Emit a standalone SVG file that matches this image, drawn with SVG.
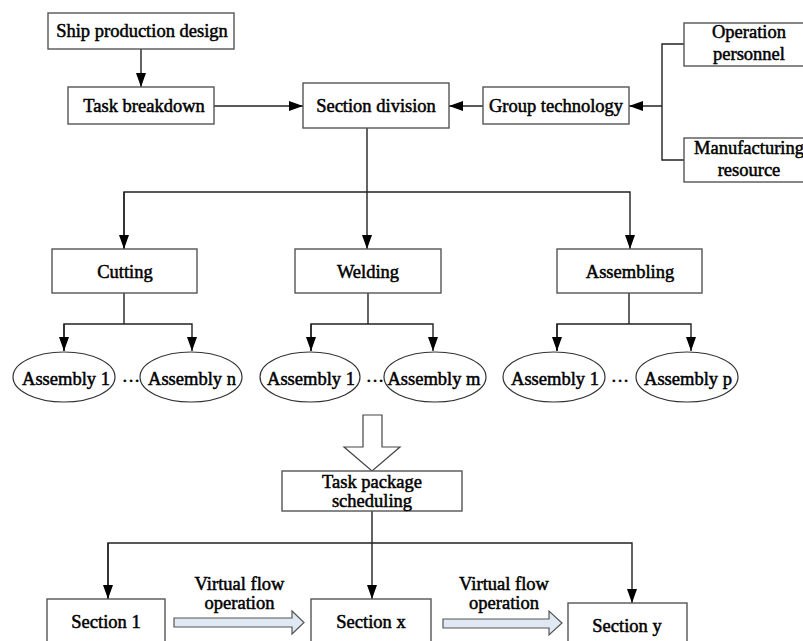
<svg xmlns="http://www.w3.org/2000/svg" width="803" height="641" viewBox="0 0 803 641">
<style>
.box{fill:#fff;stroke:#555;stroke-width:1.4}
.ell{fill:#fff;stroke:#333;stroke-width:1.2}
.t{font-family:"Liberation Serif","Times New Roman",serif;font-size:18.5px;fill:#000;text-anchor:middle;stroke:#000;stroke-width:0.5}
.c{fill:none;stroke:#222;stroke-width:1.4}
.hollow{fill:#fff;stroke:#444;stroke-width:1.2}
.blue{fill:#dfe8f3;stroke:#555;stroke-width:1.2}
</style>
<defs>
<marker id="ah" viewBox="0 0 14 10" refX="14" refY="5" markerWidth="14" markerHeight="10" orient="auto" markerUnits="userSpaceOnUse">
<path d="M0,0 L14,5 L0,10 Z" fill="#000"/>
</marker>
</defs>
<rect width="803" height="641" fill="#fff"/>

<g id="connectors">
<path class="c" d="M141,49 V87" marker-end="url(#ah)"/>
<path class="c" d="M214,106 H303" marker-end="url(#ah)"/>
<path class="c" d="M483,106 H449" marker-end="url(#ah)"/>
<path class="c" d="M662,106 H629" marker-end="url(#ah)"/>
<path class="c" d="M684,44 H662 V160 H684"/>
<path class="c" d="M367,128 V249" marker-end="url(#ah)"/>
<path class="c" d="M124,249 V192 H630 V249" marker-end="url(#ah)"/>
<path class="c" d="M124,192 V249" marker-end="url(#ah)"/>
<path class="c" d="M124,293 V324"/>
<path class="c" d="M64,351 V324 H192 V351" marker-end="url(#ah)"/>
<path class="c" d="M64,324 V351" marker-end="url(#ah)"/>
<path class="c" d="M368,293 V324"/>
<path class="c" d="M311,351 V324 H433 V351" marker-end="url(#ah)"/>
<path class="c" d="M311,324 V351" marker-end="url(#ah)"/>
<path class="c" d="M629,293 V324"/>
<path class="c" d="M557,351 V324 H691 V351" marker-end="url(#ah)"/>
<path class="c" d="M557,324 V351" marker-end="url(#ah)"/>
<path class="c" d="M372,511 V599" marker-end="url(#ah)"/>
<path class="c" d="M108,599 V543 H632 V603" marker-end="url(#ah)"/>
<path class="c" d="M108,543 V599" marker-end="url(#ah)"/>
<path class="hollow" d="M363,415 H382 V447 H400 L372,471 L344,447 H363 Z"/>
<path class="blue" d="M174,618 H292 V611 L304,622.5 L292,634 V627 H174 Z"/>
<path class="blue" d="M443,619 H549 V611 L562,623 L549,635 V628 H443 Z"/>
<text class="t" x="239.5" y="590">Virtual flow</text>
<text class="t" x="239.5" y="609">operation</text>
<text class="t" x="504" y="590">Virtual flow</text>
<text class="t" x="504" y="609">operation</text>
</g>

<g id="ship">
<rect class="box" x="48" y="13" width="186" height="36"/>
<text class="t" x="142" y="37">Ship production design</text>
</g>
<g id="task">
<rect class="box" x="68" y="87" width="146" height="37"/>
<text class="t" x="144" y="112">Task breakdown</text>
</g>
<g id="section">
<rect class="box" x="303" y="83" width="146" height="45"/>
<text class="t" x="376" y="112">Section division</text>
</g>
<g id="group">
<rect class="box" x="483" y="87" width="146" height="37"/>
<text class="t" x="556" y="112">Group technology</text>
</g>
<g id="oper">
<rect class="box" x="684" y="23" width="130" height="43"/>
<text class="t" x="749" y="38">Operation</text>
<text class="t" x="749" y="60">personnel</text>
</g>
<g id="manu">
<rect class="box" x="684" y="138" width="130" height="44"/>
<text class="t" x="749" y="154">Manufacturing</text>
<text class="t" x="749" y="176">resource</text>
</g>
<g id="cutting">
<rect class="box" x="52" y="249" width="145" height="44"/>
<text class="t" x="125" y="278">Cutting</text>
</g>
<g id="welding">
<rect class="box" x="295" y="249" width="146" height="44"/>
<text class="t" x="368" y="278">Welding</text>
</g>
<g id="assembling">
<rect class="box" x="557" y="249" width="145" height="44"/>
<text class="t" x="630" y="278">Assembling</text>
</g>
<g id="c1">
<ellipse class="ell" cx="64" cy="377" rx="51" ry="25"/>
<text class="t" x="66" y="385">Assembly 1</text>
</g>
<text class="t" x="131" y="387">···</text>
<g id="cn">
<ellipse class="ell" cx="191" cy="377" rx="51" ry="25"/>
<text class="t" x="192" y="385">Assembly n</text>
</g>
<g id="w1">
<ellipse class="ell" cx="310" cy="377" rx="50" ry="25"/>
<text class="t" x="311" y="385">Assembly 1</text>
</g>
<text class="t" x="375" y="387">···</text>
<g id="wm">
<ellipse class="ell" cx="435" cy="377" rx="51" ry="25"/>
<text class="t" x="434" y="385">Assembly m</text>
</g>
<g id="a1">
<ellipse class="ell" cx="554" cy="377" rx="51" ry="25"/>
<text class="t" x="555" y="385">Assembly 1</text>
</g>
<text class="t" x="620" y="387">···</text>
<g id="ap">
<ellipse class="ell" cx="687" cy="377" rx="51" ry="25"/>
<text class="t" x="688" y="385">Assembly p</text>
</g>
<g id="tps">
<rect class="box" x="282" y="471" width="180" height="40"/>
<text class="t" x="372" y="488">Task package</text>
<text class="t" x="372" y="507">scheduling</text>
</g>
<g id="s1">
<rect class="box" x="47" y="599" width="118" height="50"/>
<text class="t" x="106" y="628">Section 1</text>
</g>
<g id="sx">
<rect class="box" x="311" y="599" width="120" height="50"/>
<text class="t" x="371" y="628">Section x</text>
</g>
<g id="sy">
<rect class="box" x="568" y="603" width="119" height="46"/>
<text class="t" x="627" y="632">Section y</text>
</g>
</svg>
